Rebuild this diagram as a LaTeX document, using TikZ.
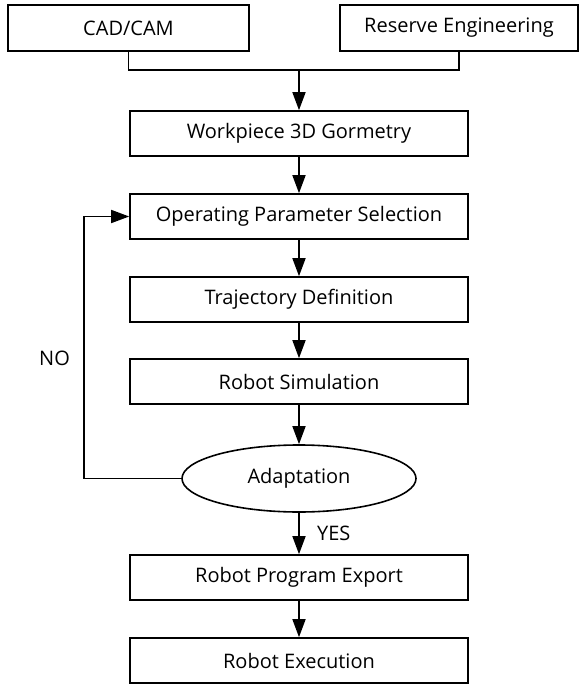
\documentclass[tikz,border=0pt]{standalone}
\usepackage{fontspec}
\setmainfont{Open Sans}
\usetikzlibrary{arrows.meta,shapes.geometric}

\begin{document}
\begin{tikzpicture}[x=1pt,y=-1pt,line width=1.6pt,
  font=\fontsize{20}{24}\selectfont,
  stepbox/.style={draw,rectangle,inner sep=0pt,minimum width=338pt,minimum height=45pt},
  arr/.style={-{Triangle[length=18pt,width=13pt]}}]
\useasboundingbox (0,0) rectangle (579,685);
  \node[stepbox,minimum width=241pt,minimum height=46pt] (cad) at (128.5,28) {CAD/CAM};
  \node[stepbox,minimum width=238pt,minimum height=46pt] (rev) at (459,28) {Reserve Engineering};
  \coordinate (join) at (299,70);
  \node[stepbox] (geo) at (299,133.5) {Workpiece 3D Gormetry};
  \node[stepbox] (par) at (299,216.5) {Operating Parameter Selection};
  \node[stepbox] (traj) at (299,299.5) {Trajectory Definition};
  \node[stepbox] (sim) at (299,381.5) {Robot Simulation};
  \node[draw,ellipse,inner sep=0pt,minimum width=234pt,minimum height=67pt] (adapt) at (299,478.5) {Adaptation};
  \node[stepbox] (export) at (299,577.5) {Robot Program Export};
  \node[stepbox] (exec) at (299,660.5) {Robot Execution};
  \coordinate (bend) at (84,478.5);

  \draw (cad.south) |- (join) -| (rev.south);
  \draw[arr] (join) -- (geo.north);
  \draw[arr] (geo) -- (par);
  \draw[arr] (par) -- (traj);
  \draw[arr] (traj) -- (sim);
  \draw[arr] (sim) -- (adapt);
  \draw[arr] (adapt) -- node[right=14pt] (yes) {YES} (export);
  \draw[arr] (export) -- (exec);
  \draw[arr] (adapt.west) -- (bend) |- node[pos=0.23,left=10pt] (no) {NO} (par.west);
\end{tikzpicture}
\end{document}
